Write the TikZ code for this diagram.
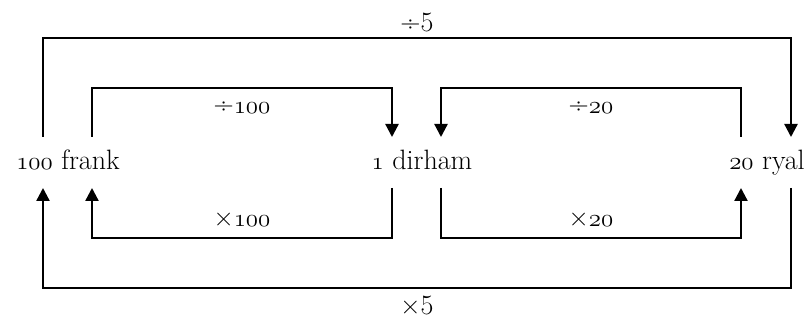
\documentclass[tikz,border=0pt]{standalone}
\usetikzlibrary{arrows.meta}
\newcommand\osn[1]{{\usefont{OML}{lmm}{m}{it}#1}}
\begin{document}
\begin{tikzpicture}[x=1pt,y=-1pt,
  conn/.style={line width=2.3pt},
  arr/.style={conn,-{Triangle[length=13pt,width=13pt]}},
  cur/.style={inner sep=0pt,font=\fontsize{28}{32}\selectfont},
  lab/.style={inner sep=0pt,font=\fontsize{28}{32}\selectfont},
  biglab/.style={inner sep=0pt,font=\fontsize{28}{32}\selectfont}]
\useasboundingbox (0,0) rectangle (808,320);
% currencies
\node[cur,anchor=base] (f) at (68,170) {\osn{100} frank};
\node[cur,anchor=base] (d) at (422,170) {\osn{1} dirham};
\node[cur,anchor=base] (r) at (767,170) {\osn{20} ryal};
% connector ends
\coordinate (fo1) at (43,137);  \coordinate (fi1) at (92,137);
\coordinate (dl1) at (392,137); \coordinate (dr1) at (441,137);
\coordinate (ri1) at (741,137); \coordinate (ro1) at (791,137);
\coordinate (fo2) at (43,188);  \coordinate (fi2) at (92,188);
\coordinate (dl2) at (392,188); \coordinate (dr2) at (441,188);
\coordinate (ri2) at (741,188); \coordinate (ro2) at (791,188);
% top connectors
\draw[arr] (fo1) -- ++(0,-99) -| (ro1);
\draw[arr] (fi1) -- ++(0,-49) -| (dl1);
\draw[arr] (ri1) -- ++(0,-49) -| (dr1);
% bottom connectors
\draw[arr] (ro2) -- ++(0,100) -| (fo2);
\draw[arr] (dl2) -- ++(0,50) -| (fi2);
\draw[arr] (dr2) -- ++(0,50) -| (ri2);
% labels
\node[biglab,anchor=base] (l1) at (417,32) {÷5};
\node[lab,anchor=base] (l2) at (242,114) {÷\osn{100}};
\node[lab,anchor=base] (l3) at (591,114) {÷\osn{20}};
\node[lab,anchor=base] (l4) at (242,227) {×\osn{100}};
\node[lab,anchor=base] (l5) at (591,227) {×\osn{20}};
\node[biglab,anchor=base] (l6) at (417,314) {×5};
\end{tikzpicture}
\end{document}
